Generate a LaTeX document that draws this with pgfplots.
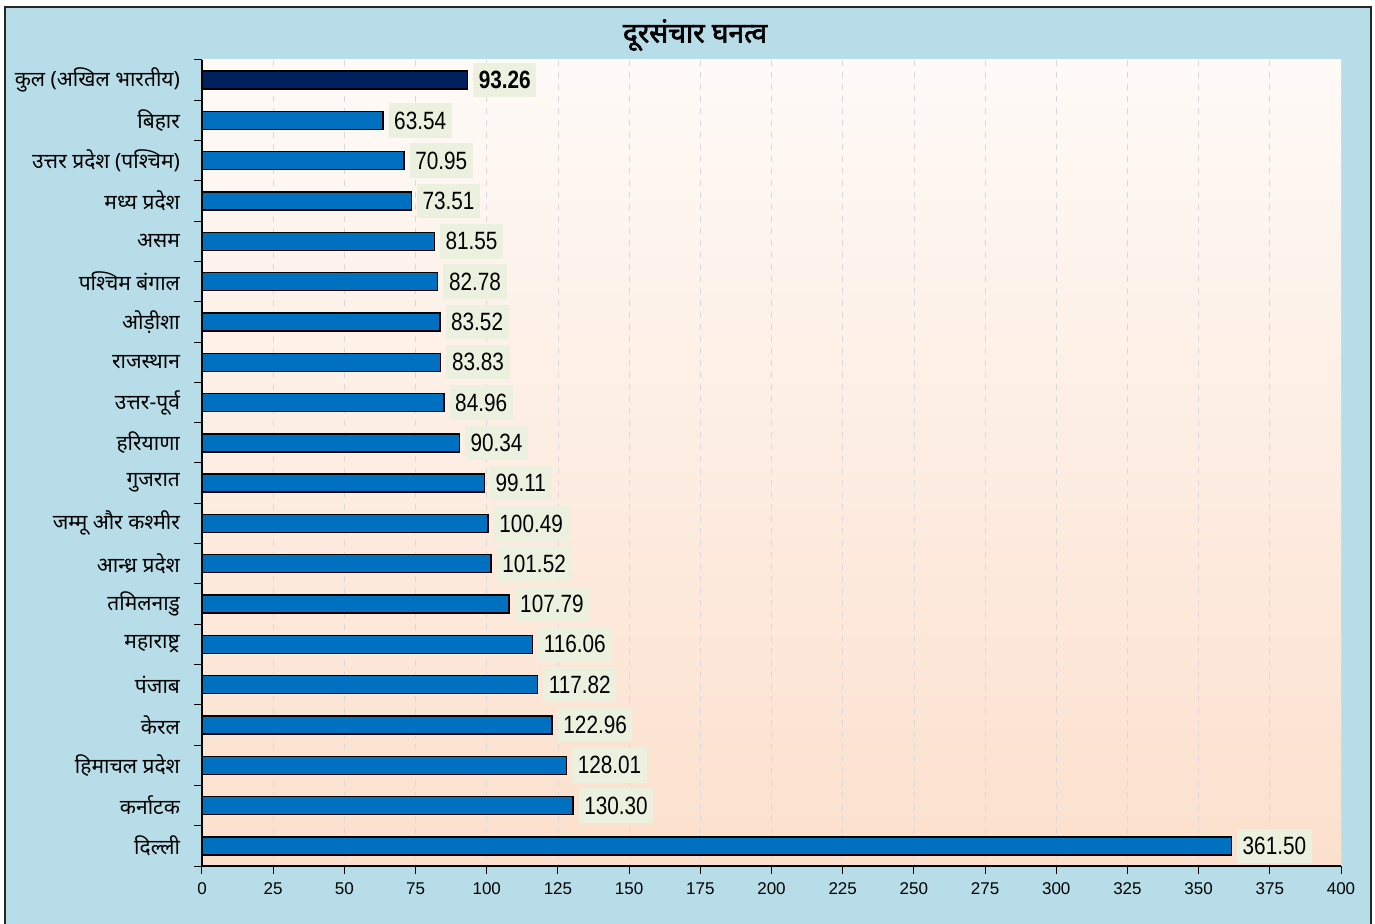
\documentclass[border=0pt]{standalone}
\usepackage{pgfplots}
\pgfplotsset{compat=1.18}
\usepackage{fontspec}
\setmainfont{Liberation Sans}
\newfontfamily\deva[Script=Devanagari]{Noto Sans}
\newfontfamily\devab[Script=Devanagari, FakeBold=2.2]{Noto Sans}
\newfontfamily\valfont[FakeStretch=0.83]{Liberation Sans}
\definecolor{bgblue}{HTML}{B7DDE8}
\definecolor{barblue}{HTML}{0070C0}
\definecolor{navy}{HTML}{002060}
\definecolor{lblbg}{HTML}{EBF1DE}
\definecolor{topc}{HTML}{FEFAF7}
\definecolor{botc}{HTML}{FCE0CD}
\begin{document}
\begin{tikzpicture}
\useasboundingbox (0pt,0pt) rectangle (687.5pt,462pt);
\fill[white] (0pt,0pt) rectangle (687.5pt,462pt);
\fill[bgblue] (2.5pt,0pt) rectangle (685.5pt,458.5pt);
\draw[black!85, line width=0.6pt] (2.5pt,0pt) -- (2.5pt,458.5pt) -- (685.5pt,458.5pt) -- (685.5pt,0pt);
\node[font=\devab\fontsize{14}{16}\selectfont] at (347.5pt,444.5pt) {दूरसंचार घनत्व};
\begin{axis}[
  at={(101pt,29pt)}, anchor=south west,
  scale only axis, width=569.5pt, height=403pt,
  xmin=0, xmax=400, ymin=-0.5, ymax=19.5, y dir=reverse,
  axis x line*=bottom, axis y line*=left,
  axis line style={black, line width=0.6pt},
  axis background/.style={top color=topc, bottom color=botc},
  xtick={0,25,...,400},
  xticklabel style={font=\fontsize{8.5}{10}\selectfont, yshift=-1pt},
  /pgf/number format/assume math mode=true,
  tick align=outside, major tick length=4pt,
  tick style={black, line width=0.5pt},
  ytick={-0.5,0.5,...,19.5}, yticklabels={},
  extra y ticks={0,1,...,19},
  extra y tick labels={कुल (अखिल भारतीय),बिहार,उत्तर प्रदेश (पश्चिम),मध्य प्रदेश,असम,पश्चिम बंगाल,ओड़ीशा,राजस्थान,उत्तर-पूर्व,हरियाणा,गुजरात,जम्मू और कश्मीर,आन्ध्र प्रदेश,तमिलनाडु,महाराष्ट्र,पंजाब,केरल,हिमाचल प्रदेश,कर्नाटक,दिल्ली},
  extra y tick style={major tick length=0pt, yticklabel style={font=\deva\fontsize{10.5}{12}\selectfont, anchor=east, xshift=-7.5pt}},
  xmajorgrids, grid style={gray!30, dashed, line width=0.35pt},
  xbar, bar width=9pt, bar shift=0pt,
  point meta=x,
  nodes near coords={\pgfmathprintnumber[fixed,fixed zerofill,precision=2]{\pgfplotspointmeta}},
  every node near coord/.append style={anchor=west, fill=lblbg, inner xsep=2.8pt, inner ysep=4.2pt, xshift=2.5pt, text=black, font=\valfont\fontsize{12.5}{14}\selectfont},
]
\addplot[draw=black, line width=0.7pt, fill=navy,
  every node near coord/.append style={font=\valfont\bfseries\fontsize{12.5}{14}\selectfont}]
  coordinates {(93.26,0)};
\addplot[draw=black, line width=0.7pt, fill=barblue] coordinates {
(63.54,1) (70.95,2) (73.51,3) (81.55,4) (82.78,5) (83.52,6) (83.83,7) (84.96,8) (90.34,9) (99.11,10)
(100.49,11) (101.52,12) (107.79,13) (116.06,14) (117.82,15) (122.96,16) (128.01,17) (130.30,18) (361.50,19)};
\end{axis}
\end{tikzpicture}
\end{document}
